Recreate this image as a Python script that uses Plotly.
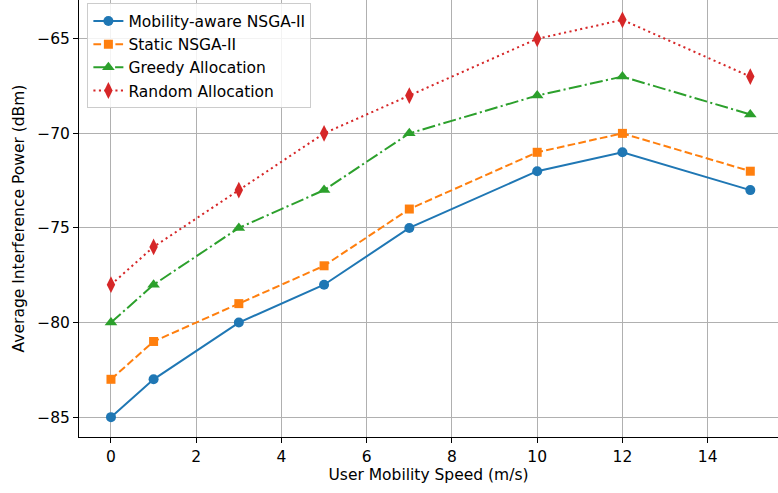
import plotly.graph_objects as go

speeds = [0, 1, 3, 5, 7, 10, 12, 15]
mobility_aware = [-85, -83, -80, -78, -75, -72, -71, -73]
static_nsga = [-83, -81, -79, -77, -74, -71, -70, -72]
greedy = [-80, -78, -75, -73, -70, -68, -67, -69]
random_alloc = [-78, -76, -73, -70, -68, -65, -64, -67]

series = [
    ("Mobility-aware NSGA-II", mobility_aware, "#1f77b4", "solid", "circle", 10),
    ("Static NSGA-II", static_nsga, "#ff7f0e", "7.7px,3.3px", "square", 9),
    ("Greedy Allocation", greedy, "#2ca02c", "13px,3.3px,2.1px,3.3px", "triangle-up", 11),
    ("Random Allocation", random_alloc, "#d62728", "2.1px,3.4px", "diamond-tall", 12),
]

FS = 15.5

fig = go.Figure()
for i, (name, vals, color, dash, sym, ms) in enumerate(series):
    fig.add_trace(go.Scatter(
        x=speeds, y=vals, name=name, mode="lines+markers",
        line=dict(color=color, width=2, dash=dash),
        marker=dict(color=color, symbol=sym, size=ms, line=dict(width=0)),
    ))

axis_common = dict(
    showline=True, linecolor="black", linewidth=1,
    ticks="outside", ticklen=5, tickwidth=1, tickcolor="black",
    showgrid=True, gridcolor="#b0b0b0", gridwidth=1,
    zeroline=False, mirror=False,
    tickfont=dict(family="DejaVu Sans", size=FS, color="black"),
)

fig.update_layout(
    width=778, height=493,
    margin=dict(l=79, r=0, t=0, b=56),
    plot_bgcolor="white", paper_bgcolor="white",
    font=dict(family="DejaVu Sans", size=FS, color="black"),
    xaxis=dict(range=[-0.75, 15.65], dtick=2, tick0=0,
               title=dict(text="User Mobility Speed (m/s)", standoff=4,
                          font=dict(family="DejaVu Sans", size=FS)),
               **axis_common),
    yaxis=dict(range=[-86.05, -62.95], dtick=5, tick0=-85,
               title=dict(text="Average Interference Power (dBm)", standoff=8,
                          font=dict(family="DejaVu Sans", size=FS)),
               **axis_common),
    legend=dict(x=0.012, y=0.992, xanchor="left", yanchor="top",
                bgcolor="rgba(255,255,255,0.85)", bordercolor="#cccccc", borderwidth=1,
                font=dict(family="DejaVu Sans", size=FS),
                itemwidth=30),
    showlegend=True,
)

fig.write_html("out.html")
